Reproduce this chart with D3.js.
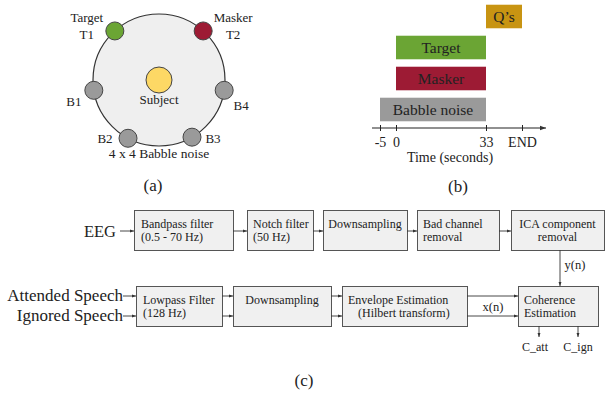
<!DOCTYPE html>
<html lang="en">
<head>
<meta charset="UTF-8">
<title>Experiment setup and processing pipeline</title>
<style>
  body { margin: 0; background: #fff; }
  text { font-family: "Liberation Serif", serif; fill: #222; }
</style>
</head>
<body>
<svg id="container" width="606" height="394"></svg>

<script src="https://cdn.jsdelivr.net/npm/d3@7/dist/d3.min.js"></script>
<script>
// ---- panel (a): loudspeaker layout ----
let speakerNames  = ["T1", "T2", "B1", "B4", "B2", "B3"]
let speakerAngles = [-42, 42, -99, 99, -152, 150]   // degrees, clockwise from top
let speakerColors = ["#6ba534", "#9d1b34", "#9a9a9a", "#9a9a9a", "#9a9a9a", "#9a9a9a"]

// ---- panel (b): trial timeline ----
let barNames  = ["Q\u2019s", "Target", "Masker", "Babble noise"]
let barStart  = [33, 0, 0, -5]
let barEnd    = [43, 33, 33, 33]
let barColors = ["#c89412", "#6ba534", "#9d1b34", "#9a9a9a"]
let tickValues = [-5, 0, 33, 43]
let tickLabels = ["-5", "0", "33", "END"]

// ---- panel (c): processing pipeline ----
let eegSteps = [["Bandpass filter", "(0.5 - 70 Hz)"], ["Notch filter", "(50 Hz)"],
                ["Downsampling"], ["Bad channel", "removal"], ["ICA component", "removal"]]
let speechSteps = [["Lowpass Filter", "(128 Hz)"], ["Downsampling"],
                   ["Envelope Estimation", "(Hilbert transform)"], ["Coherence", "Estimation"]]
let speechInputs = ["Attended Speech", "Ignored Speech"]
let outputs = ["C_att", "C_ign"]

let svg = d3.select("#container")

svg.append("defs").append("marker")
    .attr("id", "arr")
    .attr("viewBox", "0 0 6 6")
    .attr("refX", 6).attr("refY", 3)
    .attr("markerWidth", 5).attr("markerHeight", 5)
    .attr("orient", "auto")
    .append("path").attr("d", "M0,0.8 L6,3 L0,5.2 Z").attr("fill", "#333")

// ================= (a) =================
let a = svg.append("g")
let cx = 159, cy = 80, R = 66
let ang = d3.scaleLinear().domain([0, 360]).range([0, 2 * Math.PI])

a.append("circle").attr("cx", cx).attr("cy", cy).attr("r", R)
    .attr("fill", "#efefef").attr("stroke", "#333").attr("stroke-width", 1.2)

a.append("circle").attr("cx", cx).attr("cy", cy).attr("r", 13)
    .attr("fill", "#fdd865").attr("stroke", "#444").attr("stroke-width", 1)
a.append("text").attr("x", cx).attr("y", cy + 24).attr("text-anchor", "middle")
    .attr("font-size", 13).text("Subject")

let spk = speakerNames.map((n, i) => ({
    name: n,
    x: cx + R * Math.sin(ang(speakerAngles[i])),
    y: cy - R * Math.cos(ang(speakerAngles[i])),
    color: speakerColors[i]
}))

a.selectAll("circle.spk").data(spk).enter().append("circle")
    .attr("class", "spk")
    .attr("cx", d => d.x).attr("cy", d => d.y).attr("r", 9)
    .attr("fill", d => d.color).attr("stroke", "#444").attr("stroke-width", 1)

// label offsets per speaker
let labOff = { T1: [-28, 8], T2: [30, 8], B1: [-20, 16], B4: [17, 20], B2: [-23, 5], B3: [21, 6] }
a.selectAll("text.spk").data(spk).enter().append("text")
    .attr("class", "spk")
    .attr("x", d => d.x + labOff[d.name][0])
    .attr("y", d => d.y + labOff[d.name][1])
    .attr("text-anchor", "middle").attr("font-size", 13)
    .text(d => d.name)

a.append("text").attr("x", spk[0].x - 28).attr("y", spk[0].y - 9)
    .attr("text-anchor", "middle").attr("font-size", 13).text("Target")
a.append("text").attr("x", spk[1].x + 30).attr("y", spk[1].y - 9)
    .attr("text-anchor", "middle").attr("font-size", 13).text("Masker")
a.append("text").attr("x", cx).attr("y", 158).attr("text-anchor", "middle")
    .attr("font-size", 13.5).text("4 x 4 Babble noise")
a.append("text").attr("x", 153).attr("y", 191).attr("text-anchor", "middle")
    .attr("font-size", 17).text("(a)")

// ================= (b) =================
let b = svg.append("g")
let x = d3.scaleLinear().domain([-5, 0, 33, 43]).range([380, 396, 486, 522])
let y = d3.scaleBand().domain(barNames).range([1, 125]).paddingInner(0.24).paddingOuter(0.12)

b.selectAll("rect").data(barNames).enter().append("rect")
    .attr("x", (d, i) => x(barStart[i]))
    .attr("y", d => y(d))
    .attr("width", (d, i) => x(barEnd[i]) - x(barStart[i]))
    .attr("height", y.bandwidth())
    .attr("fill", (d, i) => barColors[i])

b.selectAll("text.bar").data(barNames).enter().append("text")
    .attr("class", "bar")
    .attr("x", (d, i) => (x(barStart[i]) + x(barEnd[i])) / 2)
    .attr("y", d => y(d) + y.bandwidth() / 2 + 5)
    .attr("text-anchor", "middle")
    .style("font-family", "'Liberation Serif', serif").style("font-size", "15.5px")
    .text(d => d)

let axisY = 128
let ax = b.append("g").attr("transform", `translate(0,${axisY})`)
    .call(d3.axisBottom(x).tickValues(tickValues)
        .tickFormat((d, i) => tickLabels[i]).tickSize(3).tickPadding(6))
ax.select(".domain").remove()
ax.selectAll(".tick line").attr("y1", -3).attr("y2", 3).attr("stroke", "#222")
ax.selectAll(".tick text").attr("font-family", "Liberation Serif").attr("font-size", 14).attr("fill", "#222")
b.append("line").attr("x1", 372).attr("x2", 546).attr("y1", axisY).attr("y2", axisY)
    .attr("stroke", "#222").attr("stroke-width", 1.2).attr("marker-end", "url(#arr)")
b.append("text").attr("x", 450).attr("y", 162).attr("text-anchor", "middle")
    .attr("font-size", 14).text("Time (seconds)")
b.append("text").attr("x", 458).attr("y", 192).attr("text-anchor", "middle")
    .attr("font-size", 17).text("(b)")

// ================= (c) =================
let c = svg.append("g")
let row1 = { top: 210, bottom: 250, edges: [[134, 233], [247, 313], [323, 407], [417, 499], [511, 604]] }
let row2 = { top: 286, bottom: 326, edges: [[136, 222], [233, 331], [342, 467], [518, 598]] }

// how each box's lines sit: "c" centred, number = left inset
function drawRow(steps, row, place, lineY) {
    let g = c.append("g")
    g.selectAll("rect").data(steps).enter().append("rect")
        .attr("x", (d, i) => row.edges[i][0] + 0.5)
        .attr("y", row.top + 0.5)
        .attr("width", (d, i) => row.edges[i][1] - row.edges[i][0])
        .attr("height", row.bottom - row.top)
        .attr("fill", "#f0f0f0").attr("stroke", "#555").attr("stroke-width", 1)
    steps.forEach((lines, i) => {
        lines.forEach((t, j) => {
            let p = place[i][j]
            g.append("text")
                .attr("x", p === "c" ? (row.edges[i][0] + row.edges[i][1]) / 2 : row.edges[i][0] + p)
                .attr("y", row.top + lineY[j])
                .attr("text-anchor", p === "c" ? "middle" : "start")
                .attr("font-size", 12).text(t)
        })
    })
}

drawRow(eegSteps, row1, [[7, 7], [6, 6], ["c"], [6, 6], ["c", "c"]], [18, 31])
drawRow(speechSteps, row2, [[7, 7], ["c"], [6, 16], [6, 6]], [18, 31])

function arrow(x1, y1, x2, y2) {
    c.append("line").attr("x1", x1).attr("y1", y1).attr("x2", x2).attr("y2", y2)
        .attr("stroke", "#333").attr("stroke-width", 0.9).attr("marker-end", "url(#arr)")
}

// EEG chain
let y1mid = 231
c.append("text").attr("x", 100).attr("y", y1mid + 6).attr("text-anchor", "middle")
    .attr("font-size", 16.5).text("EEG")
arrow(120, y1mid, row1.edges[0][0], y1mid)
for (let i = 0; i < eegSteps.length - 1; i++) arrow(row1.edges[i][1], y1mid, row1.edges[i + 1][0], y1mid)

// speech chain
let laneY = [296, 316]
speechInputs.forEach((s, k) => {
    c.append("text").attr("x", 123).attr("y", laneY[k] + 5).attr("text-anchor", "end")
        .attr("font-size", 17).text(s)
    arrow(123, laneY[k], row2.edges[0][0], laneY[k])
    for (let i = 0; i < speechSteps.length - 1; i++)
        arrow(row2.edges[i][1], laneY[k], row2.edges[i + 1][0], laneY[k])
})
c.append("text").attr("x", 493).attr("y", 311).attr("text-anchor", "middle")
    .attr("font-size", 12.5).text("x(n)")

// y(n) from ICA to coherence
arrow(560, row1.bottom, 560, row2.top)
c.append("text").attr("x", 575).attr("y", 269).attr("text-anchor", "middle")
    .attr("font-size", 12.5).text("y(n)")

// outputs
let outX = [539, 578]
outputs.forEach((o, k) => {
    arrow(outX[k], row2.bottom, outX[k], 337)
    c.append("text").attr("x", outX[k] - 4 + 4 * k).attr("y", 351).attr("text-anchor", "middle")
        .attr("font-size", 12).text(o)
})

c.append("text").attr("x", 304).attr("y", 386).attr("text-anchor", "middle")
    .attr("font-size", 17).text("(c)")
</script>
</body>
</html>
